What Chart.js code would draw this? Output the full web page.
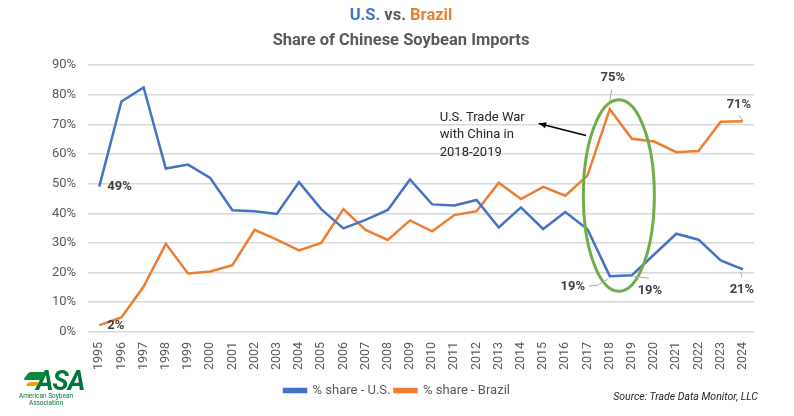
<!DOCTYPE html>
<html lang="en">
<head>
<meta charset="UTF-8">
<title>U.S. vs. Brazil - Share of Chinese Soybean Imports</title>
<script src="https://cdn.jsdelivr.net/npm/chart.js"></script>
<style>
  html, body { margin: 0; padding: 0; background: #fff; }
  .wrap { position: relative; width: 794px; height: 416px; font-family: Roboto, sans-serif; }
  canvas { position: absolute; left: 0; top: 0; }
  .title { position: absolute; left: 0; width: 802px; text-align: center; font-weight: bold; font-size: 16.5px; color: #595959; }
  .t1 { top: 5px; }
  .t2 { top: 30px; }
  .us { color: #4472C4; }
  .br { color: #ED7D31; }
  .source { position: absolute; right: 36px; top: 390px; font-size: 10.5px; font-style: italic; color: #262626; }
  .logo { position: absolute; left: 22px; top: 369px; width: 52px; color: #00763a; text-align: center; }
  .logo .asa { font-weight: bold; font-style: italic; font-size: 27px; line-height: 24px; letter-spacing: -1px; padding-left: 14px; }
  .logo .sw { position: absolute; left: 4px; top: 3px; width: 18px; height: 8px; background: #0a8a3c; transform: skewX(-35deg); border-radius: 2px; }
  .logo .sw2 { position: absolute; left: 5px; top: 13px; width: 11px; height: 4px; background: #f2a200; transform: skewX(-35deg); border-radius: 2px; }
  .logo .nm { font-size: 6.5px; line-height: 6.5px; color: #00763a; white-space: nowrap; margin-left: -4px; }
</style>
</head>
<body>
<div class="wrap">
  <canvas id="grafico" width="794" height="416"></canvas>
  <div class="title t1"><span class="us">U.S.</span> vs. <span class="br">Brazil</span></div>
  <div class="title t2">Share of Chinese Soybean Imports</div>
  <div class="logo">
    <div class="sw"></div><div class="sw2"></div>
    <div class="asa">ASA</div>
    <div class="nm">American Soybean<br>Association</div>
  </div>
  <div class="source">Source: Trade Data Monitor, LLC</div>
</div>
<script>
  const anos = ["1995", "1996", "1997", "1998", "1999", "2000", "2001", "2002", "2003", "2004",
                "2005", "2006", "2007", "2008", "2009", "2010", "2011", "2012", "2013", "2014",
                "2015", "2016", "2017", "2018", "2019", "2020", "2021", "2022", "2023", "2024"];
  const shareUS = [49, 77.7, 82.4, 55.1, 56.4, 51.9, 41.0, 40.7, 39.8, 50.5,
                   41.4, 34.9, 37.8, 41.1, 51.4, 43.0, 42.6, 44.5, 35.2, 42.0,
                   34.7, 40.4, 34.6, 18.8, 19.1, 26.1, 33.1, 31.1, 24.1, 21.1];
  const shareBrazil = [2.3, 4.9, 15.3, 29.7, 19.7, 20.4, 22.5, 34.4, 31.1, 27.5,
                       30.0, 41.4, 34.4, 31.0, 37.6, 33.9, 39.4, 40.7, 50.3, 44.8,
                       48.9, 45.9, 52.8, 75.1, 65.1, 64.2, 60.6, 61.0, 70.9, 71.0];
  const yTicks = [0, 10, 20, 30, 40, 50, 60, 70, 80, 90];
  const notaTexto = ["U.S. Trade War", "with China in", "2018-2019"];

  // rotulos de alguns pontos: serie, indice, deslocamento do texto, linha guia
  const rotulos = [
    { ds: 0, i: 0, dx: 8, dy: 0, align: 'left' },
    { ds: 1, i: 0, dx: 8, dy: 1, align: 'left' },
    { ds: 1, i: 23, dx: 3, dy: -31, lead: [[2, -20], [0, -8]] },
    { ds: 1, i: 29, dx: -4, dy: -17, lead: [[-4, -6], [0, -1]] },
    { ds: 0, i: 23, dx: -37, dy: 11, lead: [[-21, 10], [-12, 9], [-2, 3]] },
    { ds: 0, i: 24, dx: 18, dy: 15, lead: [[2, 1], [17, 3]] },
    { ds: 0, i: 29, dx: -1, dy: 20, lead: [[-2, 3], [-1, 8]] }
  ];

  const anotacoes = {
    id: 'anotacoes',
    afterDatasetsDraw(chart) {
      const { ctx, scales: { x, y } } = chart;
      ctx.save();

      // elipse verde em volta de 2018-2019
      const cx = x.getPixelForValue(23.41);
      const cy = y.getPixelForValue(46);
      const rx = x.getPixelForValue(23.41 + 1.6) - cx;
      const ry = cy - y.getPixelForValue(46 + 32.3);
      ctx.beginPath();
      ctx.ellipse(cx, cy, rx, ry, 0, 0, Math.PI * 2);
      ctx.strokeStyle = '#70AD47';
      ctx.lineWidth = 3;
      ctx.stroke();

      // seta
      const x1 = x.getPixelForValue(21.93), y1 = y.getPixelForValue(66.2);
      const x2 = x.getPixelForValue(19.8), y2 = y.getPixelForValue(70.3);
      ctx.beginPath();
      ctx.moveTo(x1, y1);
      ctx.lineTo(x2, y2);
      ctx.strokeStyle = '#000';
      ctx.lineWidth = 1.5;
      ctx.stroke();
      const ang = Math.atan2(y2 - y1, x2 - x1);
      ctx.beginPath();
      ctx.moveTo(x2, y2);
      ctx.lineTo(x2 - 8 * Math.cos(ang - 0.4), y2 - 8 * Math.sin(ang - 0.4));
      ctx.lineTo(x2 - 8 * Math.cos(ang + 0.4), y2 - 8 * Math.sin(ang + 0.4));
      ctx.closePath();
      ctx.fillStyle = '#000';
      ctx.fill();

      // texto da nota
      ctx.font = '13px Roboto';
      ctx.fillStyle = '#262626';
      ctx.textAlign = 'left';
      ctx.textBaseline = 'middle';
      const tx = x.getPixelForValue(15.34);
      const linhasY = [72.3, 66.6, 60.5];
      notaTexto.forEach((t, k) => ctx.fillText(t, tx, y.getPixelForValue(linhasY[k])));

      // rotulos de valores
      ctx.font = 'bold 13px Roboto';
      rotulos.forEach(r => {
        const v = chart.data.datasets[r.ds].data[r.i];
        const px = x.getPixelForValue(r.i);
        const py = y.getPixelForValue(v);
        if (r.lead) {
          ctx.beginPath();
          r.lead.forEach((p, k) => k ? ctx.lineTo(px + p[0], py + p[1]) : ctx.moveTo(px + p[0], py + p[1]));
          ctx.strokeStyle = '#a6a6a6';
          ctx.lineWidth = 1;
          ctx.stroke();
        }
        ctx.fillStyle = '#404040';
        ctx.textAlign = r.align || 'center';
        ctx.fillText(Math.round(v) + '%', px + r.dx, py + r.dy);
      });
      ctx.restore();
    }
  };

  const meuGrafico = document.getElementById('grafico');
  new Chart(meuGrafico, {
    type: 'line',
    data: {
      labels: anos,
      datasets: [
        { label: '% share - U.S.', data: shareUS, borderColor: '#4472C4', backgroundColor: '#4472C4',
          borderWidth: 2.5, pointRadius: 0, tension: 0 },
        { label: '% share - Brazil', data: shareBrazil, borderColor: '#ED7D31', backgroundColor: '#ED7D31',
          borderWidth: 2.5, pointRadius: 0, tension: 0 }
      ]
    },
    options: {
      responsive: false,
      animation: false,
      layout: { padding: { top: 65, left: 40, right: 40, bottom: 9 } },
      plugins: {
        legend: {
          position: 'bottom',
          labels: { boxWidth: 22, boxHeight: 3, color: '#595959', font: { family: 'Roboto', size: 13 }, padding: 4 }
        },
        title: { display: false },
        tooltip: { enabled: false }
      },
      scales: {
        x: {
          offset: true,
          grid: { display: false, drawTicks: false },
          border: { display: false },
          ticks: { minRotation: 90, maxRotation: 90, autoSkip: false, padding: 10, color: '#595959', font: { family: 'Roboto', size: 12.5 } }
        },
        y: {
          min: 0,
          max: 90,
          afterBuildTicks: axis => { axis.ticks = yTicks.map(v => ({ value: v })); },
          grid: { color: '#d9d9d9', lineWidth: 1.5, drawTicks: false },
          border: { display: false },
          ticks: { padding: 12, color: '#595959', font: { family: 'Roboto', size: 13 }, callback: v => v + '%' }
        }
      }
    },
    plugins: [anotacoes]
  });
</script>
</body>
</html>
